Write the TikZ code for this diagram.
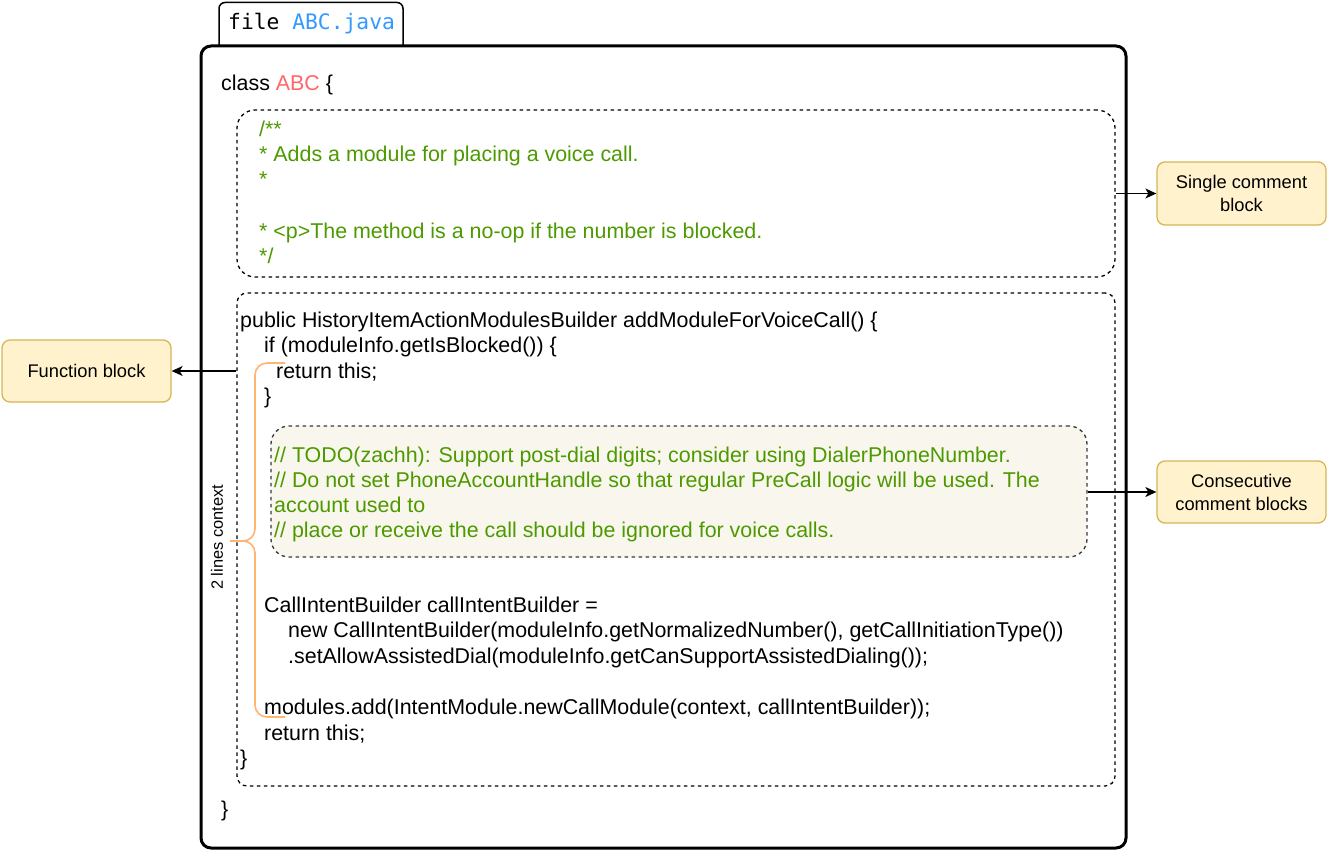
\documentclass[tikz,border=0pt]{standalone}
\usepackage{fontspec}
\setmainfont{Liberation Sans}
\newfontfamily\monof{DejaVu Sans Mono}
\usetikzlibrary{arrows.meta}
\definecolor{cgreen}{HTML}{4D9900}
\definecolor{cred}{HTML}{FF6666}
\definecolor{cblue}{HTML}{3399FF}
\definecolor{corange}{HTML}{FFB570}
\definecolor{yfill}{HTML}{FFF2CC}
\definecolor{ystroke}{HTML}{D6B656}
\definecolor{gfill}{HTML}{F9F7ED}
\definecolor{gstroke}{HTML}{36393D}
\begin{document}
\begin{tikzpicture}[x=1pt,y=-1pt,
 code/.style={inner sep=0pt, anchor=base west, font=\fontsize{21.4}{25}\selectfont},
 cmt/.style={code, text=cgreen},
 dashbox/.style={draw, line width=1.3pt, dash pattern=on 3.5pt off 3.5pt, inner sep=0pt},
 note/.style={draw=ystroke, fill=yfill, line width=1.3pt, rounded corners=8pt, align=center, font=\fontsize{18.3}{23}\selectfont, inner sep=0pt, minimum width=169pt},
 arr/.style={line width=1.3pt, -{Stealth[length=11pt,width=10pt,inset=3pt]}},
 brace/.style={corange, line width=1.6pt, rounded corners=12pt}
]
\useasboundingbox (0,0) rectangle (1329,851);

% tab and main frame
\draw[line width=1.5pt, rounded corners=6pt] (219,46) -- (219,2.5) -- (403,2.5) -- (403,46);
\node[inner sep=0pt, anchor=base west, font=\monof\fontsize{21.3}{25}\selectfont] (tabtxt) at (228,30) {file \textcolor{cblue}{ABC.java}};
\node[draw, line width=3pt, rounded corners=10pt, minimum width=925pt, minimum height=802pt, inner sep=0pt] (main) at (663.5,447) {};

\node[code] (cls) at (221,90.5) {class \textcolor{cred}{ABC} \{};

% single comment block
\node[dashbox, rounded corners=18pt, minimum width=878pt, minimum height=167pt] (cblk) at (676,193.5) {};
\node[cmt] (c1) at (259,136) {/**};
\node[cmt] (c2) at (259,161.5) {* Adds a module for placing a voice call.};
\node[cmt] (c3) at (259,186.5) {*};
\node[cmt] (c4) at (259,238.5) {* <p>The method is a no-op if the number is blocked.};
\node[cmt] (c5) at (259,263.5) {*/};

% function block
\node[dashbox, rounded corners=10pt, minimum width=878pt, minimum height=493pt] (func) at (676,539.5) {};
\node[code] (f1) at (240,327) {public HistoryItemActionModulesBuilder addModuleForVoiceCall() \{};
\node[code] (f2) at (264,352.5) {if (moduleInfo.getIsBlocked()) \{};
\node[code] (f3) at (276,378) {return this;};
\node[code] (f4) at (264,403.5) {\}};

% consecutive comment blocks
\node[dashbox, draw=gstroke, fill=gfill, rounded corners=18pt, minimum width=816pt, minimum height=131pt] (cons) at (679,491.5) {};
\node[cmt] (t1) at (274,462) {// TODO(zachh): Support post-dial digits; consider using DialerPhoneNumber.};
\node[cmt] (t2) at (274,487) {// Do not set PhoneAccountHandle so that regular PreCall logic will be used. The};
\node[cmt] (t3) at (274,512.5) {account used to};
\node[cmt] (t4) at (274,537.5) {// place or receive the call should be ignored for voice calls.};

\node[code] (f5) at (264,612) {CallIntentBuilder callIntentBuilder =};
\node[code] (f6) at (288,637.5) {new CallIntentBuilder(moduleInfo.getNormalizedNumber(), getCallInitiationType())};
\node[code] (f7) at (288,663) {.setAllowAssistedDial(moduleInfo.getCanSupportAssistedDialing());};
\node[code] (f8) at (264,714) {modules.add(IntentModule.newCallModule(context, callIntentBuilder));};
\node[code] (f9) at (264,740) {return this;};
\node[code] (f10) at (240,765.5) {\}};
\node[code] (cend) at (221,816.5) {\}};

% brace and its label
\draw[brace] (285,363) -- (255,363) -- (255,541) -- (230,541);
\draw[brace] (285,717) -- (255,717) -- (255,541) -- (230,541);
\node[rotate=90, inner sep=0pt, font=\fontsize{16.4}{20}\selectfont] (ctx) at (217,537.5) {2 lines context};

% side notes
\node[note, minimum height=62pt] (fb) at (86.5,371) {Function block};
\node[note, minimum height=63pt] (scb) at (1241.5,193.5) {Single comment\\block};
\node[note, minimum height=62pt] (ccb) at (1241.5,492) {Consecutive\\comment blocks};

\draw[arr] (func.west |- fb.east) -- (fb.east);
\draw[arr] (cblk.east |- scb.west) -- (scb.west);
\draw[arr] (cons.east |- ccb.west) -- (ccb.west);
\end{tikzpicture}
\end{document}
